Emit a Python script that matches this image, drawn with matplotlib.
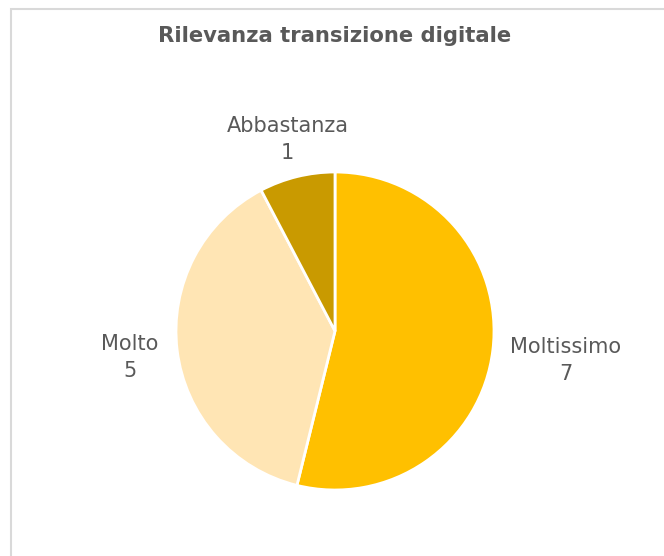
import numpy as np
import matplotlib.pyplot as plt
from matplotlib.patches import Rectangle

categories = ["Moltissimo", "Molto", "Abbastanza"]
values = [7, 5, 1]
colors = ["#FFC000", "#FFE5B4", "#C99A00"]
# how far from the centre each label sits (in pie radii)
label_dist = [1.46, 1.30, 1.25]

fig = plt.figure(figsize=(6.64, 5.56), dpi=100)
fig.patch.set_facecolor("white")

# light frame around the chart area (right/bottom edges run off the canvas)
fig.patches.append(Rectangle((11 / 664, -0.05), 1.2, (556 - 9) / 556 + 0.05,
                             transform=fig.transFigure, fill=False,
                             edgecolor="#D9D9D9", linewidth=1.5))

cx, cy, r = 335, 331, 159
ax = fig.add_axes([(cx - r) / 664, (556 - cy - r) / 556, 2 * r / 664, 2 * r / 556])

wedges, _ = ax.pie(values, colors=colors, startangle=90, counterclock=False,
                   radius=1, wedgeprops=dict(edgecolor="white", linewidth=2))
ax.set_xlim(-1, 1)
ax.set_ylim(-1, 1)
ax.set_aspect("equal")
ax.axis("off")

for w, name, v, d in zip(wedges, categories, values, label_dist):
    ang = np.deg2rad((w.theta1 + w.theta2) / 2)
    ax.text(d * np.cos(ang), d * np.sin(ang) - 0.01, f"{name}\n{v}",
            ha="center", va="center", fontsize=15, color="#595959",
            linespacing=1.45)

fig.text(335 / 664, 1 - 36 / 556, "Rilevanza transizione digitale",
         ha="center", va="center", fontsize=15.2, fontweight="bold",
         color="#595959")

fig.savefig("out.png", dpi=100)
